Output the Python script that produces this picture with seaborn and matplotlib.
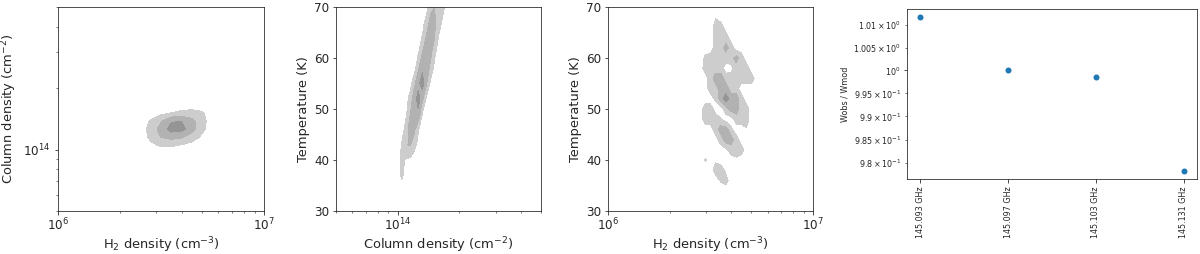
import matplotlib
matplotlib.use("Agg")
import matplotlib.pyplot as plt
from matplotlib.ticker import NullFormatter
import seaborn as sns
import numpy as np

# ---- data ----
# panel 1: log10 H2 density vs log10 column density, binned posterior weight
p1_logn = [6.40, 6.45, 6.50, 6.55, 6.60, 6.65, 6.70, 6.75]
p1_logN = [13.98, 14.02, 14.06, 14.10, 14.14, 14.18, 14.22]
p1_w = [
    [0.0, 0.0, 0.0, 0.0, 0.0, 0.0, 0.0, 0.0],
    [0.0, 0.3, 0.6, 0.6, 0.4, 0.1, 0.0, 0.0],
    [0.0, 0.7, 1.5, 1.8, 1.6, 1.0, 0.3, 0.0],
    [0.0, 0.9, 1.9, 2.9, 2.8, 1.9, 0.7, 0.0],
    [0.0, 0.6, 1.4, 2.4, 2.5, 1.8, 0.8, 0.0],
    [0.0, 0.0, 0.2, 0.5, 0.7, 0.8, 0.6, 0.0],
    [0.0, 0.0, 0.0, 0.0, 0.0, 0.0, 0.0, 0.0],
]

# panel 2: log10 column density vs temperature
p2_logN = [13.98, 14.00, 14.02, 14.04, 14.06, 14.08, 14.10, 14.12,
           14.14, 14.16, 14.18, 14.20, 14.22, 14.24, 14.26]
p2_T = [34, 37, 40, 43, 46, 49, 52, 55, 58, 61, 64, 67, 70, 73]
p2_w = [
    [0, 0, 0.0, 0.0, 0.0, 0.0, 0.0, 0.0, 0.0, 0.0, 0.0, 0.0, 0.0, 0, 0],
    [0, 0, 0.7, 0.0, 0.0, 0.0, 0.0, 0.0, 0.0, 0.0, 0.0, 0.0, 0.0, 0, 0],
    [0, 0, 0.7, 0.4, 0.3, 0.0, 0.0, 0.0, 0.0, 0.0, 0.0, 0.0, 0.0, 0, 0],
    [0, 0, 0.6, 1.4, 1.6, 0.9, 0.2, 0.0, 0.0, 0.0, 0.0, 0.0, 0.0, 0, 0],
    [0, 0, 0.0, 0.9, 2.0, 1.8, 0.6, 0.0, 0.0, 0.0, 0.0, 0.0, 0.0, 0, 0],
    [0, 0, 0.0, 0.3, 1.4, 2.4, 2.3, 0.5, 0.0, 0.0, 0.0, 0.0, 0.0, 0, 0],
    [0, 0, 0.0, 0.0, 0.9, 2.0, 2.9, 1.8, 0.3, 0.0, 0.0, 0.0, 0.0, 0, 0],
    [0, 0, 0.0, 0.0, 0.0, 1.2, 2.2, 3.0, 1.6, 0.3, 0.0, 0.0, 0.0, 0, 0],
    [0, 0, 0.0, 0.0, 0.0, 0.0, 1.3, 2.3, 2.2, 1.2, 0.2, 0.0, 0.0, 0, 0],
    [0, 0, 0.0, 0.0, 0.0, 0.0, 0.4, 1.5, 2.1, 1.8, 0.7, 0.0, 0.0, 0, 0],
    [0, 0, 0.0, 0.0, 0.0, 0.0, 0.0, 0.6, 1.6, 2.1, 1.5, 0.4, 0.0, 0, 0],
    [0, 0, 0.0, 0.0, 0.0, 0.0, 0.0, 0.0, 1.0, 1.8, 1.6, 1.1, 0.2, 0, 0],
    [0, 0, 0.0, 0.0, 0.0, 0.0, 0.0, 0.0, 0.0, 1.2, 1.5, 1.4, 0.9, 0, 0],
    [0, 0, 0.0, 0.0, 0.0, 0.0, 0.0, 0.0, 0.0, 0.0, 1.1, 1.3, 1.0, 0, 0],
]

# panel 3: log10 H2 density vs temperature
p3_logn = [6.425, 6.45, 6.475, 6.50, 6.525, 6.55, 6.575,
           6.60, 6.625, 6.65, 6.675, 6.70, 6.725]
p3_T = [34, 36, 38, 40, 42, 44, 46, 48, 50, 52, 54, 56, 58, 60, 62, 64, 66, 68, 70]
p3_w = [
    [0, 0, 0.0, 0, 0.0, 0.0, 0.0, 0.0, 0.0, 0.0, 0.0, 0, 0],
    [0, 0, 0.0, 0, 0.0, 0.6, 0.9, 0.0, 0.0, 0.0, 0.0, 0, 0],
    [0, 0, 0.0, 0, 1.0, 1.0, 0.3, 0.0, 0.0, 0.0, 0.0, 0, 0],
    [0, 0, 0.6, 0, 0.3, 0.0, 0.0, 0.0, 0.3, 0.0, 0.0, 0, 0],
    [0, 0, 0.0, 0, 0.0, 0.0, 0.3, 1.0, 1.0, 1.0, 0.0, 0, 0],
    [0, 0, 0.0, 0, 0.0, 1.0, 2.0, 2.0, 1.0, 0.0, 0.0, 0, 0],
    [0, 0, 0.0, 0, 1.0, 2.0, 2.0, 0.7, 0.0, 0.0, 0.4, 0, 0],
    [0, 0, 1.0, 1, 1.0, 0.6, 0.0, 0.0, 1.0, 1.0, 1.0, 0, 0],
    [0, 0, 1.0, 1, 0.0, 0.0, 1.0, 2.0, 2.0, 1.0, 1.0, 0, 0],
    [0, 0, 0.0, 0, 0.7, 2.0, 3.0, 2.0, 2.0, 1.0, 0.0, 0, 0],
    [0, 0, 0.0, 1, 1.0, 2.0, 2.0, 1.0, 1.0, 0.0, 0.0, 0, 0],
    [0, 0, 0.0, 1, 2.0, 2.0, 1.0, 1.0, 1.0, 1.0, 1.0, 1, 0],
    [0, 0, 1.0, 1, 1.0, 1.0, 0.0, 0.2, 1.0, 1.0, 1.0, 0, 0],
    [0, 0, 0.7, 1, 1.0, 1.0, 1.0, 1.0, 1.9, 1.0, 0.0, 0, 0],
    [0, 0, 0.0, 0, 1.0, 1.0, 1.9, 1.0, 0.0, 0.0, 0.0, 0, 0],
    [0, 0, 0.0, 0, 1.0, 1.0, 1.0, 0.0, 0.0, 0.0, 0.0, 0, 0],
    [0, 0, 0.0, 0, 1.0, 1.0, 0.0, 0.0, 0.0, 0.0, 0.0, 0, 0],
    [0, 0, 0.0, 0, 0.4, 0.0, 0.0, 0.0, 0.0, 0.0, 0.0, 0, 0],
    [0, 0, 0.0, 0, 0.0, 0.0, 0.0, 0.0, 0.0, 0.0, 0.0, 0, 0],
]

# panel 4: observed / model line intensity ratio
lines = ["145.093 GHz", "145.097 GHz", "145.103 GHz", "145.131 GHz"]
ratio = [1.0118, 1.0000, 0.9986, 0.9782]

levels = [0.5, 1.5, 2.5, 10]
greys = ["#cdcdcd", "#b2b2b2", "#959595"]

sns.set_style("ticks")
plt.rcParams["font.family"] = ["DejaVu Sans"]
plt.rcParams.update({
    "font.size": 12,
    "axes.labelsize": 13,
    "xtick.major.size": 3.5, "ytick.major.size": 3.5,
    "xtick.minor.size": 2, "ytick.minor.size": 2,
    "xtick.major.pad": 2.0, "ytick.major.pad": 3.5,
    "axes.labelpad": 2.5,
})

W, H = 1200, 254
fig = plt.figure(figsize=(W / 72, H / 72), dpi=72)
ax1 = fig.add_axes([58 / W, 1 - 211 / H, 206 / W, 204 / H])
ax2 = fig.add_axes([336 / W, 1 - 211 / H, 205 / W, 204 / H])
ax3 = fig.add_axes([608 / W, 1 - 211 / H, 205 / W, 204 / H])
ax4 = fig.add_axes([907 / W, 1 - 179 / H, 290 / W, 170 / H])

# panel 1
ax1.contourf(10 ** np.array(p1_logn), 10 ** np.array(p1_logN), np.array(p1_w),
             levels=levels, colors=greys)
ax1.set_xscale("log")
ax1.set_yscale("log")
ax1.set_xlim(1e6, 1e7)
ax1.set_ylim(5e13, 5e14)
ax1.set_xlabel("H$_2$ density (cm$^{-3}$)")
ax1.set_ylabel("Column density (cm$^{-2}$)", labelpad=4)

# panel 2
ax2.contourf(10 ** np.array(p2_logN), np.array(p2_T), np.array(p2_w),
             levels=levels, colors=greys)
ax2.set_xscale("log")
ax2.set_xlim(5e13, 5e14)
ax2.set_ylim(30, 70)
ax2.set_yticks([30, 40, 50, 60, 70])
ax2.set_xlabel("Column density (cm$^{-2}$)")
ax2.set_ylabel("Temperature (K)", labelpad=4)

# panel 3
ax3.contourf(10 ** np.array(p3_logn), np.array(p3_T), np.array(p3_w),
             levels=levels, colors=greys)
ax3.set_xscale("log")
ax3.set_xlim(1e6, 1e7)
ax3.set_ylim(30, 70)
ax3.set_yticks([30, 40, 50, 60, 70])
ax3.set_xlabel("H$_2$ density (cm$^{-3}$)")
ax3.set_ylabel("Temperature (K)", labelpad=4)

for ax in (ax1, ax2, ax3):
    ax.xaxis.set_minor_formatter(NullFormatter())
    ax.yaxis.set_minor_formatter(NullFormatter())
    ax.tick_params(labelsize=12)

# panel 4
sns.scatterplot(x=lines, y=ratio, ax=ax4, color="#1f77b4", s=36, linewidth=0)
ax4.set_yscale("log")
ax4.set_ylabel("Wobs / Wmod", fontsize=8, labelpad=4)
ax4.tick_params(axis="both", which="both", labelsize=8, pad=3.5)
ax4.tick_params(axis="x", rotation=90)

fig.savefig("out.png", dpi=72)
